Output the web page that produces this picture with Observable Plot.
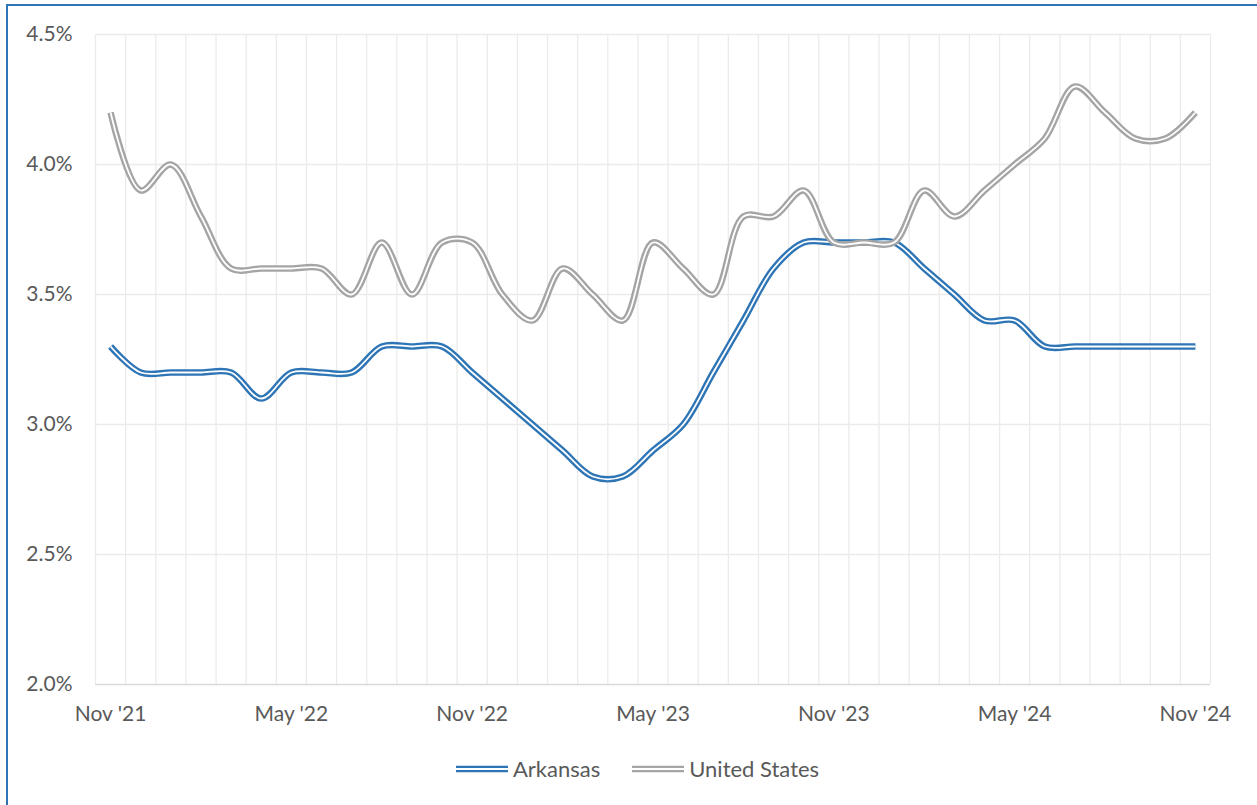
<!DOCTYPE html>
<html><head><meta charset="utf-8">
<script src="https://cdn.jsdelivr.net/npm/d3@7"></script>
<script src="https://cdn.jsdelivr.net/npm/@observablehq/plot@0.6"></script>
<style>
html,body{margin:0;padding:0;background:#fff;width:1257px;height:805px;overflow:hidden;font-family:Lato,"Open Sans",sans-serif;}
#frame{position:absolute;left:6px;top:4px;width:1400px;height:900px;border-left:2px solid #2E75B6;border-top:2px solid #2E75B6;box-sizing:border-box;}
#chart{position:absolute;left:0;top:0;}
#legend{position:absolute;top:755px;left:456px;display:flex;align-items:center;font-size:22px;color:#595959;line-height:28px;}
#legend .item{display:flex;align-items:center;}
#legend svg{margin-right:5px;}
</style>
</head><body>
<div id="frame"></div>
<div id="chart"></div>
<div id="legend"></div>
<script>
const months = ["Nov '21","Dec '21","Jan '22","Feb '22","Mar '22","Apr '22","May '22","Jun '22","Jul '22","Aug '22","Sep '22","Oct '22",
  "Nov '22","Dec '22","Jan '23","Feb '23","Mar '23","Apr '23","May '23","Jun '23","Jul '23","Aug '23","Sep '23","Oct '23",
  "Nov '23","Dec '23","Jan '24","Feb '24","Mar '24","Apr '24","May '24","Jun '24","Jul '24","Aug '24","Sep '24","Oct '24","Nov '24"];
const arkansas = [3.3,3.2,3.2,3.2,3.2,3.1,3.2,3.2,3.2,3.3,3.3,3.3,
  3.2,3.1,3.0,2.9,2.8,2.8,2.9,3.0,3.2,3.4,3.6,3.7,
  3.7,3.7,3.7,3.6,3.5,3.4,3.4,3.3,3.3,3.3,3.3,3.3,3.3];
const unitedStates = [4.2,3.9,4.0,3.8,3.6,3.6,3.6,3.6,3.5,3.7,3.5,3.7,
  3.7,3.5,3.4,3.6,3.5,3.4,3.7,3.6,3.5,3.8,3.8,3.9,
  3.7,3.7,3.7,3.9,3.8,3.9,4.0,4.1,4.3,4.2,4.1,4.1,4.2];
const xTickLabels = ["Nov '21","May '22","Nov '22","May '23","Nov '23","May '24","Nov '24"];
const yTicks = [2.0,2.5,3.0,3.5,4.0,4.5];
const seriesNames = ["Arkansas","United States"];
const seriesColors = ["#2E75B6","#A5A5A5"];

const rows = [];
months.forEach((m,i)=>{
  rows.push({i, month:m, series:"Arkansas", value:arkansas[i]});
  rows.push({i, month:m, series:"United States", value:unitedStates[i]});
});
const xTickIdx = xTickLabels.map(l => months.indexOf(l));
const boundaries = d3.range(months.length + 1).map(k => k - 0.5);

function seriesMarks(name, color){
  const d = rows.filter(r => r.series === name);
  return [
    Plot.line(d, {x:"i", y:"value", stroke:color, strokeWidth:6.5, curve:"catmull-rom", strokeLinecap:"butt", strokeLinejoin:"round"}),
    Plot.line(d, {x:"i", y:"value", stroke:"#ffffff", strokeWidth:1.8, curve:"catmull-rom", strokeLinecap:"butt", strokeLinejoin:"round"})
  ];
}

const plot = Plot.plot({
  width:1257, height:740,
  marginLeft:95, marginRight:47, marginTop:34, marginBottom:56,
  style:{fontFamily:"Lato, 'Open Sans', sans-serif", fontSize:"21px", color:"#595959", background:"transparent", overflow:"visible"},
  x:{type:"linear", domain:[-0.5, months.length - 0.5]},
  y:{domain:[2.0,4.5]},
  marks:[
    Plot.ruleX(boundaries, {stroke:"#ebebeb", strokeWidth:1.3}),
    Plot.ruleY(yTicks.slice(1), {stroke:"#ebebeb", strokeWidth:1.3}),
    Plot.ruleY([yTicks[0]], {stroke:"#d9d9d9", strokeWidth:1.3}),
    Plot.axisX({ticks:xTickIdx, tickFormat:i => months[i], tickSize:0, tickPadding:22, label:null, fill:"#595959"}),
    Plot.axisY({ticks:yTicks, tickFormat:v => v.toFixed(1) + "%", tickSize:0, tickPadding:23, label:null, fill:"#595959"}),
    ...seriesMarks("Arkansas", seriesColors[0]),
    ...seriesMarks("United States", seriesColors[1])
  ]
});
document.getElementById("chart").appendChild(plot);

const legend = document.getElementById("legend");
seriesNames.forEach((name, k) => {
  const item = document.createElement("div");
  item.className = "item";
  if (k > 0) item.style.marginLeft = "32px";
  item.innerHTML = `<svg width="52" height="12"><line x1="0" x2="52" y1="6" y2="6" stroke="${seriesColors[k]}" stroke-width="6.5"/><line x1="0" x2="52" y1="6" y2="6" stroke="#fff" stroke-width="1.8"/></svg><span>${name}</span>`;
  legend.appendChild(item);
});
</script>
</body></html>
